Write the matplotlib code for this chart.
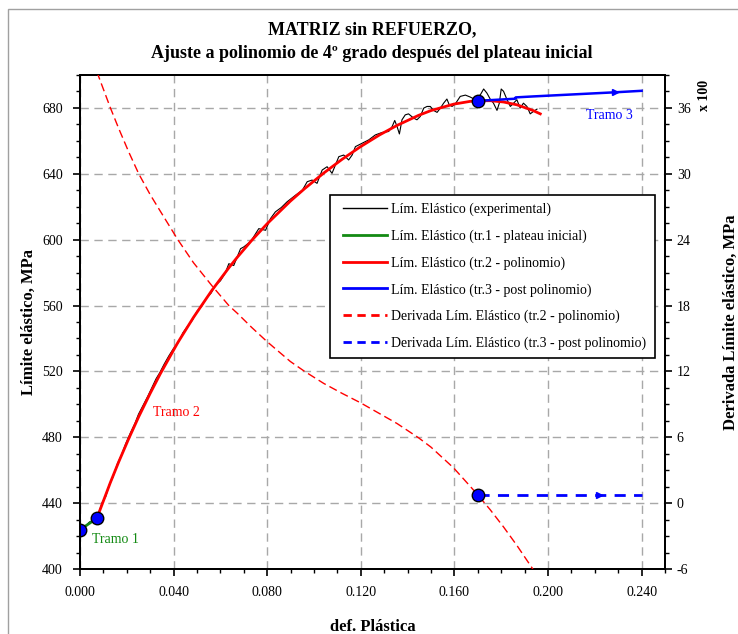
import matplotlib
matplotlib.use("Agg")
import matplotlib.pyplot as plt
from matplotlib.ticker import MultipleLocator, FormatStrFormatter
from matplotlib.patches import Rectangle
from matplotlib.lines import Line2D

plt.rcParams['font.family'] = ['Liberation Serif', 'DejaVu Serif']
plt.rcParams['axes.unicode_minus'] = False

# --- Experimental yield stress (MPa) vs plastic strain ---
exp_x = [0.0000, 0.0020, 0.0040, 0.0060, 0.0075, 0.0095, 0.0110, 0.0125, 0.0140, 0.0160,
         0.0175, 0.0195, 0.0215, 0.0235, 0.0250, 0.0270, 0.0290, 0.0310, 0.0325, 0.0340,
         0.0360, 0.0380, 0.0400, 0.0420, 0.0440, 0.0460, 0.0480, 0.0500, 0.0520, 0.0540,
         0.0560, 0.0580, 0.0600, 0.0620, 0.0636, 0.0657, 0.0686, 0.0700, 0.0730, 0.0764,
         0.0793, 0.0814, 0.0835, 0.0860, 0.0885, 0.0921, 0.0950, 0.0971, 0.0992, 0.1013,
         0.1035, 0.1056, 0.1077, 0.1106, 0.1127, 0.1148, 0.1163, 0.1177, 0.1234, 0.1262,
         0.1291, 0.1319, 0.1334, 0.1345, 0.1355, 0.1365, 0.1376, 0.1390, 0.1404, 0.1426,
         0.1440, 0.1454, 0.1469, 0.1483, 0.1497, 0.1511, 0.1526, 0.1540, 0.1554, 0.1568,
         0.1578, 0.1590, 0.1604, 0.1625, 0.1647, 0.1668, 0.1689, 0.1711, 0.1725, 0.1739,
         0.1753, 0.1767, 0.1782, 0.1792, 0.1800, 0.1810, 0.1825, 0.1839, 0.1853, 0.1867,
         0.1881, 0.1895, 0.1910, 0.1924, 0.1938, 0.1953]
exp_y = [423.8, 425.5, 428.5, 429.8, 432.0, 440.5, 444.0, 451.0, 455.5, 464.0,
         468.5, 476.0, 482.5, 488.5, 494.0, 499.5, 505.0, 511.0, 515.5, 519.0,
         524.5, 529.5, 534.0, 537.5, 543.5, 547.5, 551.0, 556.5, 559.5, 564.5,
         567.5, 572.5, 575.0, 579.5, 585.4, 584.3, 594.5, 595.6, 599.0, 606.7,
         605.7, 612.8, 616.9, 619.5, 623.0, 627.0, 630.0, 635.2, 636.2, 634.2,
         642.3, 644.3, 640.3, 650.4, 651.4, 648.4, 651.4, 656.5, 660.6, 663.6,
         665.1, 665.7, 668.7, 672.4, 668.7, 664.2, 672.8, 675.8, 676.4, 673.8,
         672.8, 674.8, 679.9, 680.9, 680.9, 678.5, 677.3, 679.9, 682.9, 685.4,
         681.9, 680.9, 682.5, 687.0, 687.8, 686.6, 685.0, 688.0, 691.5, 689.0,
         685.4, 682.9, 678.5, 682.9, 691.5, 690.1, 685.0, 680.9, 682.9, 685.0,
         679.9, 682.9, 680.9, 676.4, 677.9, 679.3]

# --- Segment 1: initial plateau ---
tr1_x = [0.0000, 0.0072]
tr1_y = [423.8, 430.8]

# --- Segment 2: 4th-degree polynomial fit ---
tr2_x = [0.0072, 0.0130, 0.0165, 0.0208, 0.0251, 0.0300, 0.0343, 0.0418, 0.0485, 0.0564,
         0.0636, 0.0672, 0.0734, 0.0800, 0.0899, 0.0960, 0.1042, 0.1120, 0.1198, 0.1280,
         0.1355, 0.1447, 0.1500, 0.1597, 0.1668, 0.1700, 0.1753, 0.1810, 0.1867, 0.1935,
         0.1967]
tr2_y = [430.8, 452.6, 464.9, 479.1, 492.5, 506.7, 518.5, 537.5, 552.8, 569.3,
         582.9, 589.3, 599.6, 609.7, 623.4, 631.0, 640.5, 648.8, 656.4, 663.6,
         669.4, 675.5, 678.4, 682.3, 684.0, 684.3, 684.4, 683.6, 681.9, 678.5,
         676.4]

# --- Segment 3: post-polynomial ---
tr3_x = [0.1700, 0.1860, 0.1862, 0.1938, 0.2287, 0.2400]
tr3_y = [684.3, 685.6, 686.4, 687.0, 689.5, 690.4]

# --- Derivative of the yield stress (MPa, x 100) ---
dtr2_x = [0.0072, 0.0130, 0.0165, 0.0208, 0.0251, 0.0300, 0.0343, 0.0418, 0.0485, 0.0564,
          0.0636, 0.0672, 0.0734, 0.0800, 0.0899, 0.0960, 0.1042, 0.1120, 0.1198, 0.1355,
          0.1447, 0.1500, 0.1597, 0.1668, 0.1700, 0.1753, 0.1810, 0.1867, 0.1935, 0.1950]
dtr2_y = [39.3, 36.0, 34.15, 32.0, 30.0, 28.1, 26.6, 24.0, 21.9, 19.8,
          18.0, 17.3, 16.0, 14.7, 12.9, 12.0, 10.9, 10.0, 9.15, 7.25,
          5.95, 5.1, 3.2, 1.52, 0.75, -0.6, -2.17, -3.85, -6.0, -6.5]

dtr3_x = [0.1700, 0.2220, 0.2400]
dtr3_y = [0.75, 0.75, 0.75]

# Segment boundary points
knot_x = [0.0000, 0.0072, 0.1700]
knot_y = [423.8, 430.8, 684.3]
dknot_x = [0.1700]
dknot_y = [0.75]

W, H = 738, 634
fig = plt.figure(figsize=(W / 100, H / 100), dpi=100)
ax = fig.add_axes([80 / W, 1 - 569 / H, 585 / W, 494 / H])
ax2 = ax.twinx()

# outer frame
fig.patches.append(Rectangle((8 / W, -0.2), 2.0, 1.2 - 9 / H, transform=fig.transFigure,
                             fill=False, edgecolor='#a0a0a0', linewidth=1.0, zorder=0))

ax.set_xlim(0, 0.25)
ax.set_ylim(400, 700)
ax2.set_ylim(-6, 39)

ax.grid(True, which='major', color='#a8a8a8', linestyle=(0, (6, 4)), linewidth=1.0)
ax.set_axisbelow(True)

ax.plot(exp_x, exp_y, color='black', linewidth=0.8, zorder=3)
ax.plot(tr1_x, tr1_y, color='#138a13', linewidth=2.0, zorder=4)
ax.plot(tr2_x, tr2_y, color='#ff0000', linewidth=2.0, zorder=4)
ax.plot(tr3_x, tr3_y, color='#0000ff', linewidth=1.8, zorder=4,
        marker='>', markersize=4, markevery=[4])
ax.plot(knot_x, knot_y, linestyle='none', marker='o', markersize=9,
        markerfacecolor='#0000ff', markeredgecolor='black', markeredgewidth=1.0, zorder=6)

ax2.plot(dtr2_x, dtr2_y, color='#ff0000', linewidth=1.0, linestyle=(0, (6, 3)), zorder=3)
ax2.plot(dtr3_x, dtr3_y, color='#0000ff', linewidth=2.0, linestyle=(0, (4, 3)), zorder=3,
         marker='>', markersize=4, markevery=[1])
ax2.plot(dknot_x, dknot_y, linestyle='none', marker='o', markersize=9,
         markerfacecolor='#0000ff', markeredgecolor='black', markeredgewidth=1.0, zorder=6)

ax.text(0.0050, 417.7, 'Tramo 1', color='#138a13', fontsize=10, va='center', ha='left')
ax.text(0.0311, 495.0, 'Tramo 2', color='#ff0000', fontsize=10, va='center', ha='left')
ax.text(0.2163, 675.4, 'Tramo 3', color='#0000ff', fontsize=10, va='center', ha='left')

# ticks
ax.xaxis.set_major_locator(MultipleLocator(0.04))
ax.xaxis.set_minor_locator(MultipleLocator(0.01))
ax.xaxis.set_major_formatter(FormatStrFormatter('%.3f'))
ax.yaxis.set_major_locator(MultipleLocator(40))
ax.yaxis.set_minor_locator(MultipleLocator(10))
ax2.yaxis.set_major_locator(MultipleLocator(6))
ax2.yaxis.set_minor_locator(MultipleLocator(1.5))
for a in (ax, ax2):
    a.tick_params(which='major', direction='out', length=5, width=1.2, labelsize=10)
    a.tick_params(which='minor', direction='out', length=3, width=1.0)
    for s in a.spines.values():
        s.set_linewidth(1.4)
ax.tick_params(axis='both', top=False, right=False)
ax.tick_params(axis='x', which='major', pad=7.4)
ax.tick_params(axis='y', which='major', pad=7.5)
ax2.tick_params(axis='y', which='major', pad=3.5)
ax2.tick_params(axis='y', left=False)

ax.set_xlabel('def. Plástica', fontsize=12, fontweight='bold', labelpad=14)
ax.set_ylabel('Límite elástico, MPa', fontsize=12, fontweight='bold', labelpad=3.5)
ax2.set_ylabel('Derivada Límite elástico, MPa', fontsize=12, fontweight='bold', labelpad=23)
fig.text(705 / W, 1 - 95 / H, 'x 100', rotation=90, fontsize=10, fontweight='bold',
         ha='center', va='center')

fig.text(372 / W, 1 - 30 / H, 'MATRIZ sin REFUERZO,', fontsize=13, fontweight='bold',
         ha='center', va='center')
fig.text(372 / W, 1 - 53 / H, 'Ajuste a polinomio de 4º grado después del plateau inicial',
         fontsize=13, fontweight='bold', ha='center', va='center')

# legend: frame drawn separately, entries placed inside it
ax2.add_patch(Rectangle(((330 - 80) / 585, 1 - (358 - 75) / 494), 325 / 585, 163 / 494,
                        transform=ax2.transAxes, facecolor='white', edgecolor='black',
                        linewidth=1.2, zorder=7))
handles = [
    Line2D([], [], color='black', linewidth=1.0),
    Line2D([], [], color='#138a13', linewidth=2.0),
    Line2D([], [], color='#ff0000', linewidth=2.0),
    Line2D([], [], color='#0000ff', linewidth=2.0),
    Line2D([], [], color='#ff0000', linewidth=2.0, linestyle=(0, (3, 2))),
    Line2D([], [], color='#0000ff', linewidth=2.0, linestyle=(0, (3, 2))),
]
labels = [
    'Lím. Elástico (experimental)',
    'Lím. Elástico (tr.1 - plateau inicial)',
    'Lím. Elástico (tr.2 - polinomio)',
    'Lím. Elástico (tr.3 - post polinomio)',
    'Derivada Lím. Elástico (tr.2 - polinomio)',
    'Derivada Lím. Elástico (tr.3 - post polinomio)',
]
leg = ax2.legend(handles, labels, loc='upper left',
                 bbox_to_anchor=((342.7 - 80) / 585, 1 - (203 - 75) / 494),
                 fontsize=10, frameon=False, handlelength=3.17, handletextpad=0.29,
                 labelspacing=0.95, borderpad=0.0, borderaxespad=0.0)
leg.set_zorder(8)

fig.savefig('out.png', dpi=100)
